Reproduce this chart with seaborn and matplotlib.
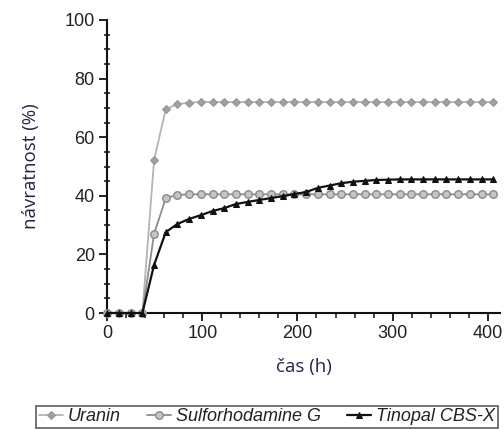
import numpy as np
import pandas as pd
import matplotlib
matplotlib.use("Agg")
import matplotlib.pyplot as plt
import seaborn as sns
from matplotlib.ticker import MultipleLocator

# ---- data ----
times = [0, 12.3, 24.6, 36.9, 49.2, 61.5, 73.8, 86.1, 98.4, 110.7, 123.0, 135.3,
         147.6, 159.9, 172.2, 184.5, 196.8, 209.1, 221.4, 233.7, 246.0, 258.3,
         270.6, 282.9, 295.2, 307.5, 319.8, 332.1, 344.4, 356.7, 369.0, 381.3,
         393.6, 405.9]
uranin = [0, 0, 0, 0, 52.2, 69.6, 71.3, 71.8, 72, 72, 72, 72, 72, 72, 72, 72, 72,
          72, 72, 72, 72, 72, 72, 72, 72, 72, 72, 72, 72, 72, 72, 72, 72, 72]
sulfo = [0, 0, 0, 0, 27.0, 39.2, 40.3, 40.5, 40.5, 40.5, 40.5, 40.5, 40.5, 40.5,
         40.5, 40.5, 40.5, 40.5, 40.5, 40.5, 40.5, 40.5, 40.5, 40.5, 40.5, 40.5,
         40.5, 40.5, 40.5, 40.5, 40.5, 40.5, 40.5, 40.5]
tinopal = [0, 0, 0, 0, 16.4, 27.6, 30.4, 32.1, 33.4, 34.8, 35.8, 37.2, 37.9, 38.6,
           39.2, 39.9, 40.6, 41.3, 42.7, 43.5, 44.3, 44.8, 45.1, 45.4, 45.5, 45.6,
           45.6, 45.6, 45.6, 45.6, 45.6, 45.6, 45.6, 45.6]
names = ["Uranin", "Sulforhodamine G", "Tinopal CBS-X"]
xlabel = "čas (h)"
ylabel = "návratnost (%)"

df = pd.DataFrame({"t": times, "Uranin": uranin, "Sulforhodamine G": sulfo,
                   "Tinopal CBS-X": tinopal})

sns.set_theme(style="ticks")
plt.rcParams["font.family"] = ["Liberation Sans", "DejaVu Sans"]

fig = plt.figure(figsize=(5.04, 4.30), dpi=100)
ax = fig.add_axes([107.3 / 504, 1 - 313 / 430, (500 - 107.3) / 504, (313 - 20) / 430])

styles = {
    "Uranin": dict(color="#b4b4b4", marker="D", markersize=4.2,
                   markerfacecolor="#a0a0a0", markeredgecolor="#959595", lw=1.3),
    "Sulforhodamine G": dict(color="#8c8c8c", marker="o", markersize=5.4,
                             markerfacecolor="#c4c4c4", markeredgecolor="#8a8a8a",
                             markeredgewidth=1.0, lw=1.3),
    "Tinopal CBS-X": dict(color="#111111", marker="^", markersize=4.5,
                          markerfacecolor="#111111", markeredgecolor="#111111", lw=1.6),
}
for n in names:
    sns.lineplot(data=df, x="t", y=n, ax=ax, label=n, clip_on=False, zorder=3,
                 **styles[n])

ax.set_xlim(0, 413)
ax.set_ylim(0, 100)
ax.xaxis.set_major_locator(MultipleLocator(100))
ax.xaxis.set_minor_locator(MultipleLocator(20))
ax.yaxis.set_major_locator(MultipleLocator(20))
ax.yaxis.set_minor_locator(MultipleLocator(5))
for s in ["top", "right"]:
    ax.spines[s].set_visible(False)
for s in ["left", "bottom"]:
    ax.spines[s].set_color("#111111")
    ax.spines[s].set_linewidth(1.5)
ax.tick_params(which="major", direction="out", length=6, width=1.3,
               colors="#111111", labelsize=13, labelcolor="#222222", pad=3)
ax.tick_params(which="minor", direction="inout", length=5, width=1.1, colors="#111111")
ax.tick_params(axis="x", which="minor", direction="out", length=3.5)

ax.set_xlabel(xlabel, fontsize=13.5, color="#24244a", family=["Open Sans", "DejaVu Sans"],
              labelpad=11)
ax.set_ylabel(ylabel, fontsize=13.5, color="#24244a", family=["Open Sans", "DejaVu Sans"],
              labelpad=18)

ax.get_legend().remove()
handles, labels = ax.get_legend_handles_labels()
leg = fig.legend(handles, labels, loc="lower center", ncol=3,
                 bbox_to_anchor=(267 / 504, 2 / 430),
                 borderaxespad=0, frameon=True, fancybox=False,
                 borderpad=0.15, handlelength=1.3, handletextpad=0.3, columnspacing=1.45,
                 prop={"style": "italic", "size": 13, "family": "Liberation Sans"})
leg.get_frame().set_edgecolor("#333333")
leg.get_frame().set_linewidth(1.2)
for t in leg.get_texts():
    t.set_color("#222222")

fig.savefig("out.png", dpi=100)
